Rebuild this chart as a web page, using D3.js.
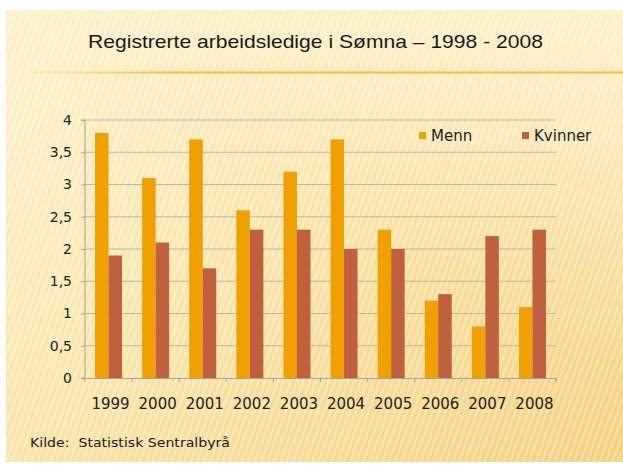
<!DOCTYPE html>
<html><head><meta charset="utf-8">
<script src="https://cdn.jsdelivr.net/npm/d3@7"></script>
<style>html,body{margin:0;padding:0;background:#fff;}svg{display:block;}</style>
</head><body>
<script>
const years = ["1999","2000","2001","2002","2003","2004","2005","2006","2007","2008"];
const menn = [3.8, 3.1, 3.7, 2.6, 3.2, 3.7, 2.3, 1.2, 0.8, 1.1];
const kvinner = [1.9, 2.1, 1.7, 2.3, 2.3, 2.0, 2.0, 1.3, 2.2, 2.3];
const seriesNames = ["Menn", "Kvinner"];
const yTicks = [0, 0.5, 1, 1.5, 2, 2.5, 3, 3.5, 4];
const title = "Registrerte arbeidsledige i Sømna – 1998 - 2008";
const source = "Kilde:  Statistisk Sentralbyrå";

(function(){
const W = 623, H = 468;
const colors = ["#f0a000", "#c0603e"];
const font = "'Liberation Sans', Arial, sans-serif";
const font2 = "'DejaVu Sans', Verdana, sans-serif";

const svg = d3.select("body").append("svg").attr("width", W).attr("height", H);
const defs = svg.append("defs");
const g1 = defs.append("linearGradient").attr("id","bg").attr("x1","0").attr("y1","0").attr("x2","1").attr("y2","1");
g1.append("stop").attr("offset","0").attr("stop-color","#fdf1cc");
g1.append("stop").attr("offset","0.45").attr("stop-color","#fbe6ae");
g1.append("stop").attr("offset","1").attr("stop-color","#f3d07e");
const pat = defs.append("pattern").attr("id","stripes").attr("patternUnits","userSpaceOnUse")
  .attr("width",6).attr("height",6).attr("patternTransform","rotate(20)");
pat.append("rect").attr("width",2.5).attr("height",6).attr("fill","#ffffff").attr("opacity",0.28);
const g2 = defs.append("linearGradient").attr("id","glow").attr("x1","1").attr("y1","0").attr("x2","0.6").attr("y2","0.5");
g2.append("stop").attr("offset","0").attr("stop-color","#fff6dc").attr("stop-opacity",0.7);
g2.append("stop").attr("offset","1").attr("stop-color","#fff6dc").attr("stop-opacity",0);
const g3 = defs.append("linearGradient").attr("id","line").attr("x1","0").attr("x2","1");
g3.append("stop").attr("offset","0").attr("stop-color","#f5b53a").attr("stop-opacity",0.1);
g3.append("stop").attr("offset","0.25").attr("stop-color","#f5b53a").attr("stop-opacity",0.9);
g3.append("stop").attr("offset","1").attr("stop-color","#f5b53a").attr("stop-opacity",0.9);

svg.append("rect").attr("x",6).attr("y",10).attr("width",W-6).attr("height",452).attr("fill","url(#bg)");
svg.append("rect").attr("x",6).attr("y",10).attr("width",W-6).attr("height",452).attr("fill","url(#stripes)");
svg.append("rect").attr("x",6).attr("y",10).attr("width",W-6).attr("height",452).attr("fill","url(#glow)");

svg.append("rect").attr("x",30).attr("y",71.5).attr("width",W-30).attr("height",2).attr("fill","url(#line)");

svg.append("text").attr("x",88).attr("y",48).text(title)
  .attr("font-family",font).attr("font-size",19).attr("fill","#1a1a1a")
  .attr("textLength",455).attr("lengthAdjust","spacingAndGlyphs");

const pLeft = 85, pRight = 556, pTop = 120, pBottom = 378;
const x0 = d3.scaleBand().domain(years).range([pLeft, pRight]).paddingInner(0).paddingOuter(0);
const x1 = d3.scaleBand().domain(seriesNames).range([0, 27]);
const xPad = (x0.bandwidth() - 27) / 2;
const y = d3.scaleLinear().domain([0, 4]).range([pBottom, pTop]);

const grid = svg.append("g");
grid.selectAll("line").data(yTicks.slice(1)).join("line")
  .attr("x1", pLeft).attr("x2", pRight).attr("y1", d => y(d)).attr("y2", d => y(d))
  .attr("stroke", "#bdb6a6").attr("stroke-width", 1);

const data = years.map((yr, i) => ({yr, vals: [menn[i], kvinner[i]]}));
const groups = svg.append("g").selectAll("g").data(data).join("g")
  .attr("transform", d => `translate(${x0(d.yr) + xPad},0)`);
groups.selectAll("rect").data(d => d.vals.map((v, j) => ({v, s: seriesNames[j], j}))).join("rect")
  .attr("x", d => x1(d.s)).attr("width", x1.bandwidth())
  .attr("y", d => y(d.v)).attr("height", d => y(0) - y(d.v))
  .attr("fill", d => colors[d.j]);

const yAxis = d3.axisLeft(y).tickValues(yTicks).tickSize(4).tickPadding(9)
  .tickFormat(d => String(d).replace(".", ","));
const ya = svg.append("g").attr("transform", `translate(${pLeft},0)`).call(yAxis);
ya.select(".domain").attr("stroke", "#a8a296").attr("d", `M-4,${pTop}H0V${pBottom}H-4`);
ya.selectAll(".tick line").attr("stroke", "#a8a296");
ya.selectAll("text").attr("font-family", font2).attr("font-size", 14).attr("fill", "#222");

const xAxis = d3.axisBottom(x0).tickSize(0).tickPadding(31);
const xa = svg.append("g").attr("transform", `translate(0,${pBottom})`).call(xAxis);
xa.select(".domain").attr("stroke", "#a8a296");
xa.selectAll("text").attr("font-family", font2).attr("font-size", 15).attr("fill", "#222").attr("dy","0").attr("dx","2");
svg.append("g").selectAll("line").data(years.concat(["end"])).join("line")
  .attr("x1", (d, i) => pLeft + i * x0.step()).attr("x2", (d, i) => pLeft + i * x0.step())
  .attr("y1", pBottom).attr("y2", pBottom + 4).attr("stroke", "#a8a296");

const leg = svg.append("g");
const legX = [419, 522];
seriesNames.forEach((s, i) => {
  leg.append("rect").attr("x", legX[i]).attr("y", 132).attr("width", 7).attr("height", 7).attr("fill", colors[i]);
  leg.append("text").attr("x", legX[i] + 12).attr("y", 141).text(s)
    .attr("font-family", font2).attr("font-size", 15).attr("fill", "#222");
});

svg.append("text").attr("x", 30).attr("y", 447).text(source)
  .attr("font-family", font2).attr("font-size", 13).attr("fill", "#1a1a1a")
  .attr("textLength", 200).attr("lengthAdjust", "spacingAndGlyphs")
  .style("white-space","pre");
})();
</script>
</body></html>
